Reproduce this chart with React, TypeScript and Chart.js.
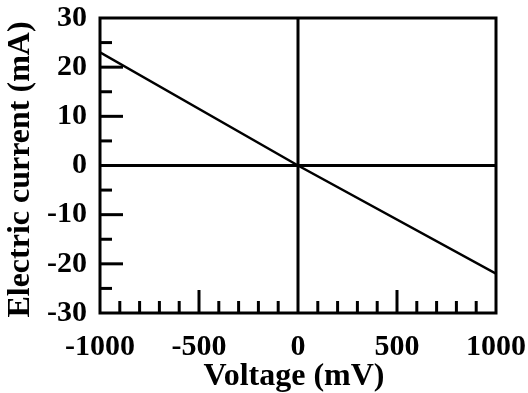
import React, { useEffect, useRef } from "react";
import { Chart, registerables } from "chart.js";

Chart.register(...registerables);

// Data
const voltage = [-1000, 0, 1000];
const current = [23, 0, -22];

// Tick marks
const xMinorTicks = [-900, -800, -700, -600, -400, -300, -200, -100, 100, 200, 300, 400, 600, 700, 800, 900];
const xMajorTicks = [-500, 500];
const yMinorTicks = [-25, -15, -5, 5, 15, 25];
const yMajorTicks = [-20, -10, 10, 20];
const zeroLines = [0];

const xTitle = "Voltage (mV) ";
const yTitle = "Electric current (mA) ";

const FONT = "'Liberation Serif', 'Times New Roman', serif";

const framePlugin = {
  id: "frame",
  afterDatasetsDraw(chart: any) {
    const { ctx, chartArea } = chart;
    const xs = chart.scales.x;
    const ys = chart.scales.y;
    const { left, right, top, bottom } = chartArea;
    ctx.save();
    ctx.strokeStyle = "#000";
    ctx.lineWidth = 3;
    ctx.lineCap = "butt";
    zeroLines.forEach((z) => {
      const px = xs.getPixelForValue(z);
      ctx.beginPath();
      ctx.moveTo(px, top);
      ctx.lineTo(px, bottom);
      ctx.stroke();
      const py = ys.getPixelForValue(z);
      ctx.beginPath();
      ctx.moveTo(left, py);
      ctx.lineTo(right, py);
      ctx.stroke();
    });
    const drawY = (v: number, len: number) => {
      const py = ys.getPixelForValue(v);
      ctx.beginPath();
      ctx.moveTo(left, py);
      ctx.lineTo(left + len, py);
      ctx.stroke();
    };
    yMinorTicks.forEach((v) => drawY(v, 12));
    yMajorTicks.forEach((v) => drawY(v, 23));
    const drawX = (v: number, len: number) => {
      const px = xs.getPixelForValue(v);
      ctx.beginPath();
      ctx.moveTo(px, bottom);
      ctx.lineTo(px, bottom - len);
      ctx.stroke();
    };
    xMinorTicks.forEach((v) => drawX(v, 12));
    xMajorTicks.forEach((v) => drawX(v, 23));
    ctx.lineJoin = "miter";
    ctx.strokeRect(left, top, right - left, bottom - top);
    ctx.restore();
  },
};

const zeroPad = (s: any) => {
  s.paddingTop = 0;
  s.paddingBottom = 0;
  s.paddingLeft = 0;
  s.paddingRight = 0;
};

export default function App() {
  const ref = useRef<HTMLCanvasElement>(null);
  useEffect(() => {
    if (!ref.current) return;
    const chart = new Chart(ref.current, {
      type: "line",
      data: {
        datasets: [
          {
            data: voltage.map((v, i) => ({ x: v, y: current[i] })),
            borderColor: "#000",
            borderWidth: 2.5,
            pointRadius: 0,
            tension: 0,
            fill: false,
          },
        ],
      },
      options: {
        animation: false,
        responsive: true,
        maintainAspectRatio: false,
        layout: { padding: { left: 5, top: 18, right: 32, bottom: 0 } },
        plugins: { legend: { display: false }, tooltip: { enabled: false } },
        scales: {
          x: {
            type: "linear",
            min: -1000,
            max: 1000,
            border: { display: false },
            grid: { display: false, drawTicks: false },
            ticks: {
              stepSize: 500,
              color: "#000",
              padding: 16,
              maxRotation: 0,
              callback: (v: any) => String(v),
              font: { family: FONT, size: 30, weight: "bold" },
            },
            title: {
              display: true,
              text: xTitle,
              color: "#000",
              padding: 0,
              font: { family: FONT, size: 32, weight: "bold", lineHeight: 1 },
            },
            afterFit: (s: any) => {
              s.height = 80;
              zeroPad(s);
            },
          },
          y: {
            type: "linear",
            min: -30,
            max: 30,
            border: { display: false },
            grid: { display: false, drawTicks: false },
            ticks: {
              stepSize: 10,
              color: "#000",
              padding: 13,
              callback: (v: any) => String(v),
              font: { family: FONT, size: 30, weight: "bold" },
            },
            title: {
              display: true,
              text: yTitle,
              color: "#000",
              padding: 0,
              font: { family: FONT, size: 32, weight: "bold", lineHeight: 1 },
            },
            afterFit: (s: any) => {
              s.width = 95;
              zeroPad(s);
            },
          },
        },
      },
      plugins: [framePlugin],
    });
    return () => chart.destroy();
  }, []);
  return (
    <div style={{ position: "fixed", left: 0, top: 0, width: 528, height: 393, background: "#fff" }}>
      <canvas ref={ref} />
    </div>
  );
}
